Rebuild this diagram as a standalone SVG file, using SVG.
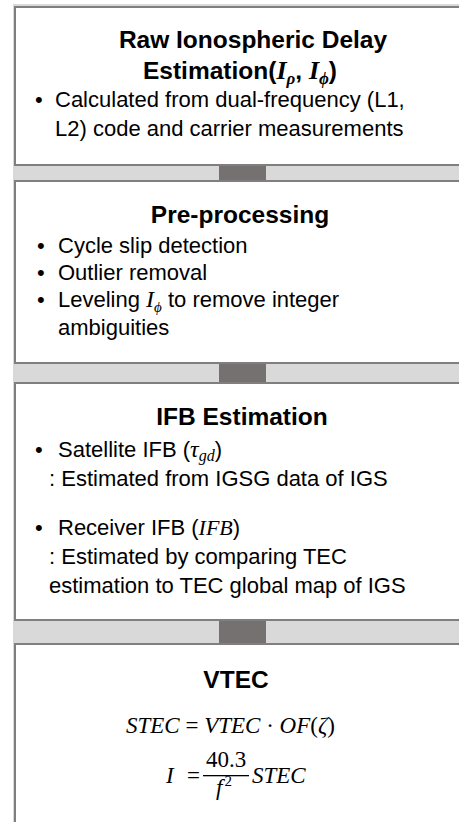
<svg xmlns="http://www.w3.org/2000/svg" width="459" height="822" viewBox="0 0 459 822">
<style>
.bg{fill:#d9d9d9}
.box{fill:#ffffff;stroke:#7f7f7f;stroke-width:2}
.conn{fill:#767171}
.title{font-family:"Liberation Sans",Arial,sans-serif;font-weight:bold;font-size:24.5px;fill:#000;text-anchor:middle}
.body{font-family:"Liberation Sans",Arial,sans-serif;font-size:22px;fill:#000}
.m{font-family:"Liberation Serif","Times New Roman",serif;font-style:italic}
.mr{font-family:"Liberation Serif","Times New Roman",serif;font-style:normal}
.eq{font-family:"Liberation Serif","Times New Roman",serif;font-style:italic;font-size:23px;fill:#000}
</style>
<rect class="bg" x="13" y="4" width="460" height="830"/>
<g id="connectors">
<rect class="conn" x="219" y="165" width="47" height="16"/>
<rect class="conn" x="219" y="363" width="47" height="20"/>
<rect class="conn" x="219" y="620" width="47" height="24"/>
</g>
<g id="node-raw">
<rect class="box" x="15" y="7" width="470" height="158"/>
<text class="title" x="253" y="48">Raw Ionospheric Delay</text>
<text class="title" x="240" y="79">Estimation(<tspan class="m" font-size="26">I</tspan><tspan class="m" font-size="17" dy="5">ρ</tspan><tspan dy="-5">, </tspan><tspan class="m" font-size="26">I</tspan><tspan class="m" font-size="17" dy="5">ϕ</tspan><tspan dy="-5">)</tspan></text>
<text class="body" x="35" y="107">•</text>
<text class="body" x="55" y="107">Calculated from dual-frequency (L1,</text>
<text class="body" x="55" y="136">L2) code and carrier measurements</text>
</g>
<g id="node-pre">
<rect class="box" x="15" y="181" width="470" height="182"/>
<text class="title" x="240" y="223">Pre-processing</text>
<text class="body" x="37" y="253">•</text>
<text class="body" x="58" y="253">Cycle slip detection</text>
<text class="body" x="37" y="280">•</text>
<text class="body" x="58" y="280">Outlier removal</text>
<text class="body" x="37" y="307">•</text>
<text class="body" x="58" y="307">Leveling  <tspan class="m" font-size="24">I</tspan><tspan class="m" font-size="15" dy="5">ϕ</tspan><tspan dy="-5"> to remove integer</tspan></text>
<text class="body" x="58" y="335">ambiguities</text>
</g>
<g id="node-ifb">
<rect class="box" x="15" y="383" width="470" height="237"/>
<text class="title" x="242" y="425">IFB Estimation</text>
<text class="body" x="35" y="457">•</text>
<text class="body" x="58" y="457">Satellite IFB (<tspan class="m" font-size="24">τ</tspan><tspan class="m" font-size="16" dy="4">gd</tspan><tspan dy="-4">)</tspan></text>
<text class="body" x="49" y="486">: Estimated from IGSG data of IGS</text>
<text class="body" x="35" y="535">•</text>
<text class="body" x="58" y="535">Receiver IFB (<tspan class="m">IFB</tspan>)</text>
<text class="body" x="49" y="564">: Estimated by comparing TEC</text>
<text class="body" x="49" y="593">estimation to TEC global map of IGS</text>
</g>
<g id="node-vtec">
<rect class="box" x="15" y="644" width="470" height="200"/>
<text class="title" x="236" y="688">VTEC</text>
<text class="eq" x="126" y="733">STEC <tspan class="mr">=</tspan> VTEC <tspan class="mr">·</tspan> OF<tspan class="mr">(</tspan>ζ<tspan class="mr">)</tspan></text>
<text class="eq" x="166" y="783">I</text>
<text class="eq" x="187" y="783" style="font-style:normal">=</text>
<text class="eq" x="226" y="767" text-anchor="middle" style="font-style:normal">40.3</text>
<rect x="203" y="775" width="46" height="1.3" fill="#000"/>
<text class="eq" x="224" y="795" text-anchor="middle">f<tspan class="mr" font-size="15" dy="-9" dx="2">2</tspan></text>
<text class="eq" x="252" y="783">STEC</text>
</g>
</svg>
